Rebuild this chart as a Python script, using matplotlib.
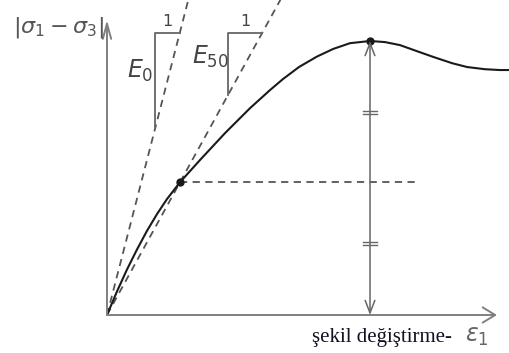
import numpy as np
import matplotlib
matplotlib.use('Agg')
import matplotlib.pyplot as plt

# stress-strain curve, normalised to the peak (eps_f = 1, q_f = 1)
strain = [0, 0.038, 0.076, 0.114, 0.152, 0.190, 0.228, 0.278, 0.354, 0.449,
          0.544, 0.620, 0.669, 0.730, 0.798, 0.860, 0.924, 1.0, 1.057, 1.114,
          1.181, 1.240, 1.312, 1.369, 1.437, 1.494, 1.53]
stress = [0, 0.086, 0.166, 0.239, 0.307, 0.368, 0.423, 0.485, 0.566, 0.664,
          0.755, 0.821, 0.861, 0.905, 0.943, 0.971, 0.992, 1.0, 0.996, 0.985,
          0.962, 0.942, 0.919, 0.905, 0.897, 0.894, 0.894]

peak = (1.0, 1.0)
half = (0.278, 0.485)
E0 = 3.72                    # initial tangent slope
E50 = half[1] / half[0]      # secant slope at half the peak stress

axis_col = '#808080'
dash_col = '#555555'
curve_col = '#1a1a1a'

fig = plt.figure(figsize=(5.1, 3.53), dpi=100)
ax = fig.add_axes([0, 0, 1, 1])
ax.set_xlim(-0.4068, 1.5323)
ax.set_ylim(-0.1387, 1.1496)
ax.axis('off')

# axes with open arrowheads
ax.annotate('', xy=(1.483, 0), xytext=(0, 0),
            arrowprops=dict(arrowstyle='->,head_length=0.9,head_width=0.55',
                            color=axis_col, lw=1.4, shrinkA=0, shrinkB=0))
ax.annotate('', xy=(0, 1.077), xytext=(0, 0),
            arrowprops=dict(arrowstyle='->,head_length=1.1,head_width=0.3',
                            color=axis_col, lw=1.4, shrinkA=0, shrinkB=0))

# tangent and secant lines
ytop = 1.15
ax.plot([0, ytop / E0], [0, ytop], ls=(0, (4, 3)), color=dash_col, lw=1.3)
ax.plot([0, ytop / E50], [0, ytop], ls=(0, (4, 3)), color=dash_col, lw=1.3)

# slope triangles
tri_top = 1.03
for slope, xv in [(E0, 0.1844), (E50, 0.46)]:
    ax.plot([xv, xv, tri_top / slope], [xv * slope, tri_top, tri_top],
            color='#666666', lw=1.3)
    ax.text((xv + tri_top / slope) / 2, tri_top + 0.012, '1', ha='center',
            va='bottom', fontsize=11.5, color='#444444')
ax.text(0.177, 0.89, r'$E_0$', ha='right', va='center', fontsize=17,
        color='#444444')
ax.text(0.462, 0.943, r'$E_{50}$', ha='right', va='center', fontsize=17,
        color='#444444')

# half-peak level
ax.plot([half[0], 1.183], [half[1], half[1]], ls=(0, (4, 3)),
        color=dash_col, lw=1.3)

# peak stress double arrow with equal-length marks
ax.annotate('', xy=(peak[0], peak[1]), xytext=(peak[0], 0),
            arrowprops=dict(arrowstyle='<->,head_length=0.9,head_width=0.35',
                            color='#666666', lw=1.1, shrinkA=0, shrinkB=0))
for ym in [0.26, 0.74]:
    for dy in [-0.0055, 0.0055]:
        ax.plot([peak[0] - 0.026, peak[0] + 0.026], [ym + dy, ym + dy],
                color='#666666', lw=1.0)

# curve
ax.plot(strain, stress, color=curve_col, lw=1.5, solid_capstyle='round',
        solid_joinstyle='round')
ax.plot([half[0], peak[0]], [half[1], peak[1]], 'o', color=curve_col,
        markersize=5)

# labels
ax.text(-0.011, 1.051, r'$|\sigma_1 - \sigma_3|$', ha='right', va='center',
        fontsize=16, color='#555555')
ax.text(1.312, -0.0985, 'şekil değiştirme-', ha='right', va='baseline',
        fontsize=15, family='Liberation Serif', color='#111122')
ax.text(1.36, -0.0985, r'$\varepsilon_1$', ha='left', va='baseline',
        fontsize=17, color='#666666')

fig.savefig('out.png', dpi=100)
